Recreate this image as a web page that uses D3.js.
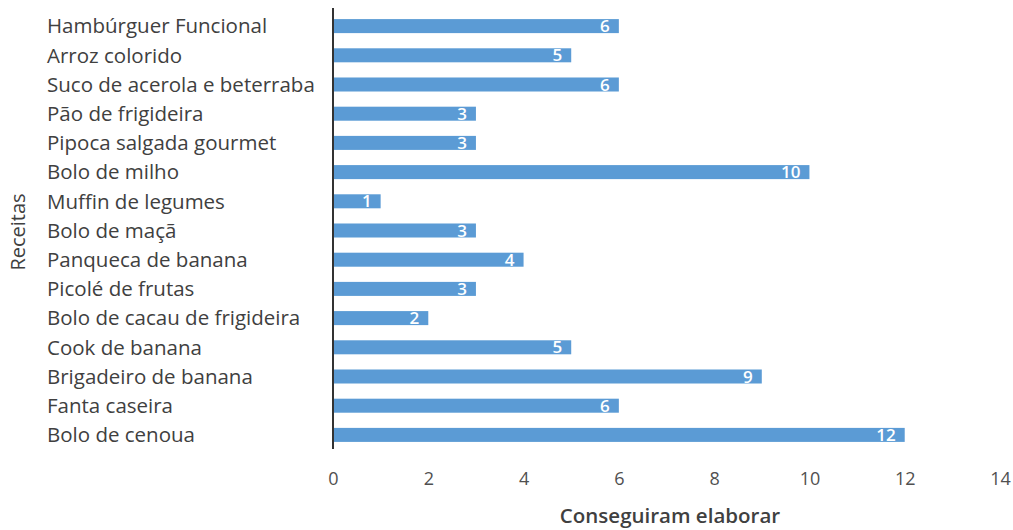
<!DOCTYPE html>
<html><head><meta charset="utf-8">
<script src="https://cdn.jsdelivr.net/npm/d3@7"></script>
<style>body{margin:0;background:#fff}svg{display:block}</style>
</head><body><div id="c"></div>
<script>
const categories = ["Hambúrguer Funcional","Arroz colorido","Suco de acerola e beterraba","Pão de frigideira","Pipoca salgada gourmet","Bolo de milho","Muffin de legumes","Bolo de maçã","Panqueca de banana","Picolé de frutas","Bolo de cacau de frigideira","Cook de banana","Brigadeiro de banana","Fanta caseira","Bolo de cenoua"];
const values = [6,5,6,3,3,10,1,3,4,3,2,5,9,6,12];
const xTicks = [0,2,4,6,8,10,12,14];

const W=1013,H=530;
const svg=d3.select("#c").append("svg").attr("width",W).attr("height",H);
const font="'Open Sans', sans-serif";
const x=d3.scaleLinear().domain([0,14]).range([333,1000]);
const y=d3.scaleBand().domain(categories).range([11.5,449.5]).paddingInner(0.52).paddingOuter(0.26);

svg.append("g").selectAll("rect").data(values).join("rect")
  .attr("x",x(0)).attr("y",(d,i)=>y(categories[i]))
  .attr("width",d=>x(d)-x(0)).attr("height",y.bandwidth())
  .attr("fill","#5b9bd5");

svg.append("g").selectAll("text").data(values).join("text")
  .attr("x",d=>x(d)-9).attr("y",(d,i)=>y(categories[i])+y.bandwidth()/2)
  .attr("dy","0.36em").attr("text-anchor","end")
  .attr("fill","#fff").attr("font-family",font).attr("font-size",17).attr("font-weight","600")
  .text(d=>d);

// category labels
svg.append("g").selectAll("text").data(categories).join("text")
  .attr("x",47).attr("y",d=>y(d)+y.bandwidth()/2).attr("dy","0.36em")
  .attr("fill","#404040").attr("font-family",font).attr("font-size",20.5)
  .text(d=>d);

// y axis line
svg.append("line").attr("x1",x(0)).attr("x2",x(0)).attr("y1",8).attr("y2",449)
  .attr("stroke","#333").attr("stroke-width",2);

// x axis
const xa=d3.axisBottom(x).tickValues(xTicks).tickSize(0).tickPadding(0);
const g=svg.append("g").attr("transform","translate(0,485)").call(xa);
g.select(".domain").remove();
g.selectAll("text").attr("font-family",font).attr("font-size",18).attr("fill","#505050").attr("dy","0");

svg.append("text").attr("x",670).attr("y",523).attr("text-anchor","middle")
  .attr("font-family",font).attr("font-size",20.5).attr("font-weight","600").attr("fill","#404040")
  .text("Conseguiram elaborar");
svg.append("text").attr("transform","translate(25,232) rotate(-90)").attr("text-anchor","middle")
  .attr("font-family",font).attr("font-size",20).attr("font-weight","500").attr("fill","#404040")
  .text("Receitas");
</script></body></html>
